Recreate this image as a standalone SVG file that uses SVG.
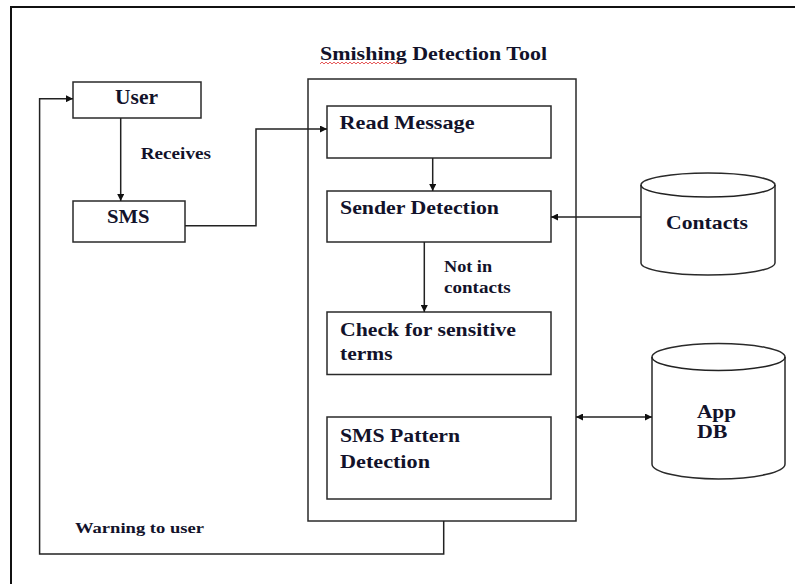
<svg xmlns="http://www.w3.org/2000/svg" width="795" height="584" viewBox="0 0 795 584">
<style>
.bx{fill:#fff;stroke:#2a2a2a;stroke-width:1.5}
.ln{fill:none;stroke:#222;stroke-width:1.5}
.t{font-family:"Liberation Serif","Times New Roman",serif;font-weight:bold;fill:#12122a}
</style>
<defs>
<marker id="ah" viewBox="0 0 10 10" refX="10" refY="5" markerWidth="9" markerHeight="7" markerUnits="userSpaceOnUse" orient="auto-start-reverse">
<path d="M0,0 L10,5 L0,10 Z" fill="#111"/>
</marker>
</defs>
<rect width="795" height="584" fill="#fff"/>
<path d="M11,584 V7 H795" fill="none" stroke="#111" stroke-width="2"/>
<g id="title">
<text class="t" x="320" y="60" font-size="18.5" textLength="227" lengthAdjust="spacingAndGlyphs">Smishing Detection Tool</text>
<path d="M320,64 l2,-2 l2,2 l2,-2 l2,2 l2,-2 l2,2 l2,-2 l2,2 l2,-2 l2,2 l2,-2 l2,2 l2,-2 l2,2 l2,-2 l2,2 l2,-2 l2,2 l2,-2 l2,2 l2,-2 l2,2 l2,-2 l2,2 l2,-2 l2,2 l2,-2 l2,2 l2,-2 l2,2 l2,-2 l2,2 l2,-2 l2,2 l2,-2 l2,2 l2,-2 l2,2 l2,-2 l2,2" fill="none" stroke="#e03030" stroke-width="0.8"/>
</g>
<g id="tool">
<rect class="bx" x="308" y="79" width="268" height="442"/>
</g>
<g id="user">
<rect class="bx" x="73" y="82" width="128" height="36"/>
<text class="t" x="115" y="104" font-size="20" textLength="43" lengthAdjust="spacingAndGlyphs">User</text>
</g>
<g id="sms">
<rect class="bx" x="73" y="201" width="112" height="41"/>
<text class="t" x="107" y="222.5" font-size="19" textLength="42.5" lengthAdjust="spacingAndGlyphs">SMS</text>
</g>
<g id="read">
<rect class="bx" x="327" y="106" width="224" height="52"/>
<text class="t" x="339.5" y="129" font-size="19.5" textLength="135" lengthAdjust="spacingAndGlyphs">Read Message</text>
</g>
<g id="sender">
<rect class="bx" x="327" y="191" width="224" height="51"/>
<text class="t" x="340" y="214" font-size="19.5" textLength="159" lengthAdjust="spacingAndGlyphs">Sender Detection</text>
</g>
<g id="check">
<rect class="bx" x="327" y="312" width="224" height="62.5"/>
<text class="t" x="340" y="335.5" font-size="19.5" textLength="176" lengthAdjust="spacingAndGlyphs">Check for sensitive</text>
<text class="t" x="340" y="360" font-size="19.5" textLength="52.5" lengthAdjust="spacingAndGlyphs">terms</text>
</g>
<g id="pattern">
<rect class="bx" x="327" y="417" width="224" height="82"/>
<text class="t" x="340" y="441.5" font-size="19.5" textLength="120" lengthAdjust="spacingAndGlyphs">SMS Pattern</text>
<text class="t" x="340" y="467.5" font-size="19.5" textLength="90" lengthAdjust="spacingAndGlyphs">Detection</text>
</g>
<g id="contacts">
<path class="bx" d="M641,185 A67,12 0 0,1 775,185 V263 A67,12 0 0,1 641,263 Z"/>
<path class="ln" d="M641,185 A67,12 0 0,0 775,185" stroke="#2a2a2a"/>
<text class="t" x="666" y="229.3" font-size="19.5" textLength="82" lengthAdjust="spacingAndGlyphs">Contacts</text>
</g>
<g id="appdb">
<path class="bx" d="M652,357 A66.5,13.5 0 0,1 785,357 V464 A66.5,15 0 0,1 652,464 Z"/>
<path class="ln" d="M652,357 A66.5,13.5 0 0,0 785,357" stroke="#2a2a2a"/>
<text class="t" x="697" y="418.3" font-size="19.5" textLength="39" lengthAdjust="spacingAndGlyphs">App</text>
<text class="t" x="697" y="438.3" font-size="19.5" textLength="30.5" lengthAdjust="spacingAndGlyphs">DB</text>
</g>
<g id="connectors">
<path class="ln" d="M120.7,118 V201" marker-end="url(#ah)"/>
<path class="ln" d="M185,225.7 H256 V129 H327" marker-end="url(#ah)"/>
<path class="ln" d="M432.7,158 V191" marker-end="url(#ah)"/>
<path class="ln" d="M641,217 H551" marker-end="url(#ah)"/>
<path class="ln" d="M424.3,242 V312" marker-end="url(#ah)"/>
<path class="ln" d="M576,417 H652" marker-start="url(#ah)" marker-end="url(#ah)"/>
<path class="ln" d="M443.7,521 V554 H39.6 V98.7 H73" marker-end="url(#ah)"/>
<text class="t" x="140.7" y="159.3" font-size="17.5" textLength="70.3" lengthAdjust="spacingAndGlyphs">Receives</text>
<text class="t" x="444" y="272" font-size="16.5" textLength="48" lengthAdjust="spacingAndGlyphs">Not in</text>
<text class="t" x="444" y="293" font-size="16.5" textLength="66.7" lengthAdjust="spacingAndGlyphs">contacts</text>
<text class="t" x="75" y="533.3" font-size="15.5" textLength="129" lengthAdjust="spacingAndGlyphs">Warning to user</text>
</g>
</svg>
